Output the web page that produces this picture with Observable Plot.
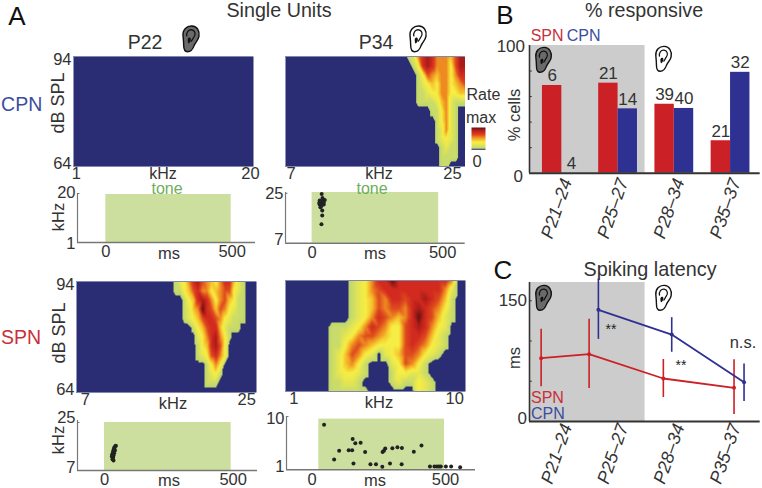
<!DOCTYPE html>
<html><head><meta charset="utf-8">
<script src="https://cdn.jsdelivr.net/npm/d3@7"></script>
<script src="https://cdn.jsdelivr.net/npm/@observablehq/plot@0.6"></script>
<style>
html,body{margin:0;padding:0;background:#fff}
#root{position:relative;width:762px;height:488px;overflow:hidden;font-family:"Liberation Sans",Arial,sans-serif;color:#333}
#root svg.plot,#root>svg{position:absolute;overflow:visible}
.lb{position:absolute;line-height:1;white-space:nowrap}
</style></head><body><div id="root"></div>
<script>
// ---------- data ----------
const groups = ["P21–24","P25–27","P28–34","P35–37"];
const pctSPN = [68.7,70.5,54,25.4];
const pctCPN = [0,50.4,50.7,79];
const nSPN = [6,21,39,21];
const nCPN = [4,14,40,32];
const latSPNx = [-0.368,0.485,1.805,3.062];
const latSPN = [78.7,83.7,53.4,41.8];
const latSPNlo = [43.1,41,29.8,8.7];
const latSPNhi = [114.7,127,77,76.6];
const latCPNx = [0.65,1.954,3.24];
const latCPN = [138.8,108,48.9];
const latCPNlo = [102,86,24.9];
const latCPNhi = [177,129,71.3];

const dotsP34CPNms = [38,41,30,50,40,33,46,28,40,30,46,37,33,40,40,37];
const dotsP34CPNk  = [24.8,23.3,22.4,22.6,22.2,21.7,21.7,21.5,21.2,21,21,20.5,20,18.8,17,13.8];
const dotsP22SPNms = [42,45,38,39.5,35.5,41,37,33,38,30,35.5,29,33,34,31.5,35.5];
const dotsP22SPNk  = [16.1,16.3,15.5,15.1,14.75,14.5,14.1,13.9,13.5,13,12.6,12.25,12.25,11.75,11.25,10.75];
const dotsP34SPNms = [45,83,102,138,151,153,163,183,156,200,220,241,265,266,271,276,294,303,322,339,338,384,413,445,462,471,479,486,505,525,559];
const dotsP34SPNk  = [8.6,2.75,4.2,4.3,4.3,6.2,5.5,5.55,2.05,4,1.95,1.95,1.5,4,4.2,4.6,2.05,4.65,4.8,4.7,1.95,4.05,5.1,1.55,1.55,1.55,1.55,1.55,1.55,1.55,1.45];

// response maps: one string per level, 94 dB at the top, one digit per frequency column
const mapCPNP22 = Array(13).fill("0");
const mapCPNP34 = [
"01257875554688","00137875553688","00013654553577","00012343553456","00011233553344",
"00011112452111","00000011352100","00000001352100","00000001252100","00000001232100",
"00000000121100","00000000111100","00000000110000"];
const mapSPNP22 = [
"12357865435774210","11346755345663210","00134787535643110","00124597646532110",
"00123467765321110","00001346774211100","00000235785310000","00000134786300000",
"00000123675300000","00000001353000000","00000001231000000","00000001110000000","00000000000000000"];
const mapSPNP34 = [
"000012357797777777750","000012356777777777520","000012346577677876410","000012346566578765310",
"000012357654579764210","011123576533678753200","011235665433677642100","011356543333676532100",
"012465320234665321000","012453100023653100000","012332100013322100000","011221000012113210000","011111100000003210000"];
const colorStops = [0,.5,.51,1,2,3,4,5,6,7,8,9];
const colorRange = ["#2a2d73","#2a2d73","#bcd46c","#c9db6a","#e6e650","#f6ee45","#f6c22c","#ee8a22","#dd4a1e","#d22a1e","#a81c18","#5e1410"];

const NAVY="#2e3192", RED="#cb2026", SPNTXT="#c8303a", CPNTXT="#3b4d9f", GREEN="#cddf9f", INK="#333";
const root=document.getElementById("root");
const color={type:"linear",domain:colorStops,range:colorRange,clamp:true};

function place(l,t,r,b,m,opts){
  const [ml,mt,mr,mb]=m;
  const svg=Plot.plot({width:r-l+ml+mr,height:b-t+mt+mb,marginLeft:ml,marginTop:mt,marginRight:mr,marginBottom:mb,
    style:{fontSize:"16.5px",fontFamily:'"Liberation Sans",Arial,sans-serif',background:"transparent",color:INK,overflow:"visible"},...opts});
  svg.style.position="absolute";svg.style.left=(l-ml)+"px";svg.style.top=(t-mt)+"px";
  root.appendChild(svg);return svg;
}
function yTick(v,dy){return Plot.axisY([v],{anchor:"left",tickSize:0,tickPadding:2,dy,label:null,tickFormat:d=>d});}
function xTick(v,dx,pad){return Plot.axisX([v],{anchor:"bottom",tickSize:0,tickPadding:pad,dx,label:null,tickFormat:d=>d});}

function heat(rows,l,t,r,b,xd,stepzu,tail,lo,hi,yLabels){
  const w=(r-l)*3,N=Math.ceil(w/stepzu)+1,unit=(xd[1]-xd[0])/w*stepzu;
  const pts=[];
  rows.forEach((s,ri)=>{
    const full=(s.padStart(N-tail,"0")+"0".repeat(tail));
    [...full].forEach((c,i)=>pts.push({x:xd[1]-(N-1-i)*unit,y:94-ri*2.5,v:+c}));
  });
  place(l,t,r,b,[30,4,12,20],{
    x:{domain:xd,axis:null},y:{domain:[64,94],axis:null},color,
    marks:[
      Plot.raster(pts,{x:"x",y:"y",fill:"v",interpolate:"barycentric",pixelSize:1}),
      Plot.ruleY([94],{stroke:"#8088b0",strokeWidth:1}),
      Plot.ruleY([64],{stroke:"#8088b0",strokeWidth:1}),
      ...(yLabels?[yTick(94,3),yTick(64,-3)]:[]),
      xTick(lo,0,1),xTick(hi,0,1)
    ]});
}
function raster(l,t,r,b,xd,yd,rect,dotsX,dotsY,ylo,yhi,dyLo,dyHi,dx500){
  const dots=dotsX.map((x,i)=>({x,y:dotsY[i]}));
  const tickLen=(xd[1]-xd[0])/(r-l)*2.5;
  place(l,t,r,b,[30,4,10,22],{
    x:{domain:xd,axis:null},y:{domain:yd,axis:null},
    marks:[
      Plot.rect([rect],{x1:"x1",x2:"x2",y1:"y1",y2:"y2",fill:GREEN}),
      Plot.ruleX([xd[0]],{stroke:"#777",strokeWidth:1.2}),
      Plot.ruleY([yd[0]],{stroke:"#777",strokeWidth:1.6}),
      Plot.ruleY([yhi],{x1:xd[0],x2:xd[0]+tickLen,stroke:"#777",strokeWidth:1}),
      Plot.dot(dots,{x:"x",y:"y",r:2,fill:"#222"}),
      yTick(ylo,dyLo),yTick(yhi,dyHi),
      xTick(0,0,3),xTick(500,dx500,3)
    ]});
}

heat(mapCPNP22,73,56,253,166,[0.7,20.33],14,0,1,20,true);
heat(mapCPNP34,284.5,55.5,464,165.5,[6.39,26.4],14,0,7,25,false);
heat(mapSPNP22,76,281,256,392,[6,26.1],13.5,2,7,25,true);
heat(mapSPNP34,285,280,465,391,[0.53,10.6],20,1,1,10,false);

raster(77,193,255,242,[-113,597],[1,20],{x1:0,x2:500,y1:1,y2:19.6},[],[],1,20,1,-1,1);
raster(285.3,192,465,242.7,[-105,604.6],[7,25.3],{x1:0,x2:500,y1:7,y2:25.3},dotsP34CPNms,dotsP34CPNk,7,25,-3,0,4);
raster(76.7,420,256.7,470,[-106.6,604],[7,25.75],{x1:0,x2:500,y1:7,y2:25},dotsP22SPNms,dotsP22SPNk,7,25,-3,-5,2);
raster(286,415.7,475,469,[-97,617],[1,10],{x1:25,x2:500,y1:1,y2:9.56},dotsP34SPNms,dotsP34SPNk,1,10,-3,2,1);

// colour key
place(471,127,485,149.3,[0,0,0,0],{x:{domain:[0,1],axis:null},y:{domain:[0,9],axis:null},color,
  marks:[Plot.raster({fill:(x,y)=>y,x1:0,x2:1,y1:0,y2:9,pixelSize:1})]});

// shared axes for B and C
function groupLabels(dy){return Plot.text(groups,{x:(d,i)=>i,y:()=>0,text:d=>d,rotate:-71,textAnchor:"end",lineAnchor:"middle",
  fontStyle:"italic",fontSize:18,dx:5,dy,fill:INK});}
const xDom=[-0.575,3.527];
const tickW=0.05;

// B
const barRows=groups.flatMap((g,i)=>[
  {i,x1:i-0.345,x2:i,v:pctSPN[i],n:nSPN[i],c:RED},
  {i,x1:i,x2:i+0.345,v:pctCPN[i],n:nCPN[i],c:NAVY}]);
place(529.3,45,760,172.7,[40,4,2,70],{
  x:{domain:xDom,axis:null},y:{domain:[0,100],axis:null},
  marks:[
    Plot.rect([{}],{x1:xDom[0],x2:1.48,y1:0,y2:100,fill:"#cccccc"}),
    Plot.rectY(barRows,{x1:"x1",x2:"x2",y1:0,y2:"v",fill:"c"}),
    Plot.text(barRows,{x:d=>(d.x1+d.x2)/2,y:"v",text:"n",lineAnchor:"bottom",dy:-4,fontSize:17,fill:INK}),
    Plot.ruleX([xDom[0]],{stroke:"#333",strokeWidth:1.6}),
    Plot.ruleY([0],{stroke:"#333",strokeWidth:2}),
    Plot.ruleY([20,40,60,80],{x1:xDom[0],x2:xDom[0]+tickW,stroke:"#333",strokeWidth:1}),
    groupLabels(6)
  ]});

// C
const spn=latSPN.map((v,i)=>({x:latSPNx[i],v,lo:latSPNlo[i],hi:latSPNhi[i]}));
const cpn=latCPN.map((v,i)=>({x:latCPNx[i],v,lo:latCPNlo[i],hi:latCPNhi[i]}));
place(529.3,281.7,760,420.7,[40,8,2,66],{
  x:{domain:xDom,axis:null},y:{domain:[0,172.7],axis:null},
  marks:[
    Plot.rect([{}],{x1:xDom[0],x2:1.48,y1:0,y2:172.7,fill:"#cccccc"}),
    Plot.ruleX([xDom[0]],{stroke:"#333",strokeWidth:1.6}),
    Plot.ruleY([0],{stroke:"#333",strokeWidth:2}),
    Plot.ruleY([50,100,150],{x1:xDom[0],x2:xDom[0]+tickW,stroke:"#333",strokeWidth:1}),
    Plot.ruleX(spn,{x:"x",y1:"lo",y2:"hi",stroke:RED,strokeWidth:1.6}),
    Plot.ruleX(cpn,{x:"x",y1:"lo",y2:"hi",stroke:NAVY,strokeWidth:1.6}),
    Plot.line(spn,{x:"x",y:"v",stroke:RED,strokeWidth:1.8}),
    Plot.line(cpn,{x:"x",y:"v",stroke:NAVY,strokeWidth:1.8}),
    Plot.dot(spn,{x:"x",y:"v",r:2,fill:RED}),
    Plot.dot(cpn,{x:"x",y:"v",r:2,fill:NAVY}),
    groupLabels(3)
  ]});

// text
function lb(t,x,y,size,o={}){
  const d=document.createElement("div");d.className="lb";d.textContent=t;
  d.style.left=x+"px";d.style.top=y+"px";d.style.fontSize=size+"px";
  if(o.c)d.style.color=o.c;
  const ax=o.a==="l"?"0":o.a==="r"?"-100%":"-50%";
  d.style.transform=`translate(${ax},-50%)`+(o.rot?` rotate(${o.rot}deg)`:"");
  root.appendChild(d);
}
const K="#111";
lb("A",17,16,26,{c:K});lb("B",505,15,26,{c:K});lb("C",503,270,26,{c:K});
lb("Single Units",279,11,19.7);
lb("% responsive",644,11,19.7);
lb("Spiking latency",650,270,19.8);
lb("P22",145,43,19.5);lb("P34",376,43,19.5);
lb("CPN",21.7,105,19.5,{c:CPNTXT});lb("SPN",21,338,19.5,{c:SPNTXT});
lb("dB SPL",58,103,18,{rot:-90});lb("dB SPL",59,333,18,{rot:-90});
lb("kHz",163,173.5,16);lb("kHz",379,173.5,16);lb("kHz",173,403,16.5);lb("kHz",379,402,16.5);
lb("tone",167,189,16,{c:"#6fae5a"});lb("tone",372,189,16,{c:"#6fae5a"});
lb("kHz",58,217,16.5,{rot:-90});lb("kHz",58,440,16.5,{rot:-90});
lb("ms",169,253,16.5);lb("ms",375,253,16.5);lb("ms",169,479.5,16.5);lb("ms",375,479.5,16.5);
lb("Rate",466.5,95,16,{a:"l"});lb("max",466,118,16,{a:"l"});lb("0",477,161,16.5);
lb("SPN",530.7,36,16,{a:"l",c:SPNTXT});lb("CPN",566.7,36,16,{a:"l",c:CPNTXT});
lb("100",525,46,17,{a:"r"});lb("0",523,176,17,{a:"r"});
lb("% cells",514,115,16.5,{rot:-90});
lb("150",527,300,17,{a:"r"});lb("0",527,418,17,{a:"r"});
lb("ms",514,358,16.5,{rot:-90});
lb("SPN",531,398,16,{a:"l",c:SPNTXT});lb("CPN",531,414,16,{a:"l",c:CPNTXT});
lb("**",611,329,14,{c:"#222"});lb("**",681,365,14,{c:"#222"});
lb("n.s.",743,342,16.5);

// ear icons
const outer="M6 34C4 14 18 2 34 3C50 4 59 18 56 36C54 48 45 54 41 64C37 76 30 84 20 84C11 84 8 76 8 64C8 54 7 44 6 34Z";
function ear(x,y,w,h,dark){
  const s=`<svg xmlns="http://www.w3.org/2000/svg" viewBox="0 0 62 88" width="${w}" height="${h}" style="left:${x}px;top:${y}px">
  <path d="${outer}" fill="${dark?"#6a6a6a":"#fff"}" stroke="#111" stroke-width="4.5"/>
  <path d="M18 36C15 22 24 14 33 15C44 16 47 30 40 38C36 43 36 48 31 52" fill="none" stroke="#111" stroke-width="4"/>
  <path d="M21 50C19 42 25 37 29 41C33 45 29 56 24 58C22 58 21 54 21 50Z" fill="#111"/>
  </svg>`;
  root.insertAdjacentHTML("beforeend",s);
}
ear(181,25,20,28,true);ear(408,25,20,28,false);
ear(534,46,19,28,true);ear(654,45,19,28,false);
ear(534,284,19,28,true);ear(654,284,19,28,false);
</script></body></html>
